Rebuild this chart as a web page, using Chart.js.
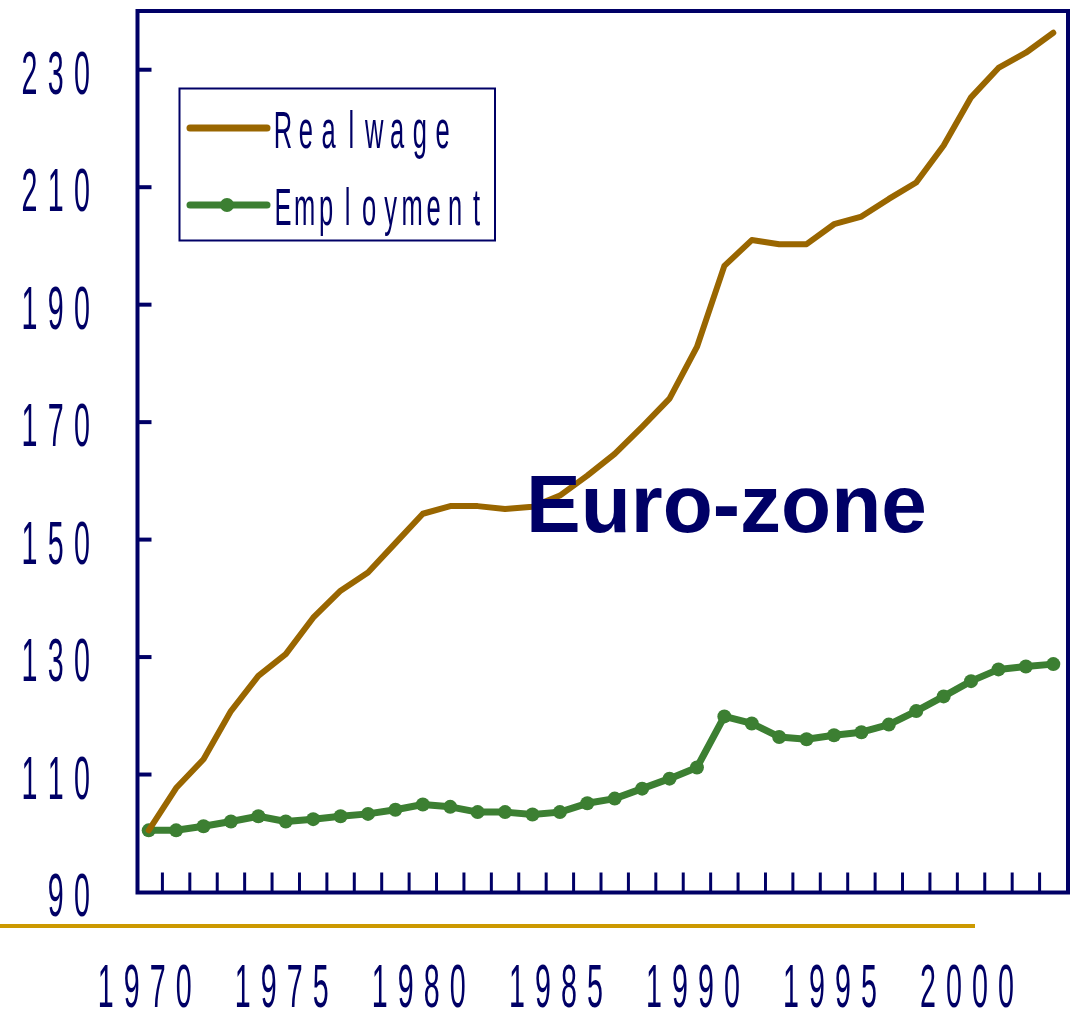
<!DOCTYPE html>
<html>
<head>
<meta charset="utf-8">
<script src="https://cdn.jsdelivr.net/npm/chart.js@4.4.0/dist/chart.umd.min.js"></script>
<style>
  html, body { margin: 0; padding: 0; background: #fff; }
</style>
</head>
<body>
<canvas id="myChart" width="1077" height="1010"></canvas>
<script>
// data (index, 1970 = 100)
const years = ['1970', '1971', '1972', '1973', '1974', '1975', '1976', '1977', '1978', '1979',
  '1980', '1981', '1982', '1983', '1984', '1985', '1986', '1987', '1988', '1989',
  '1990', '1991', '1992', '1993', '1994', '1995', '1996', '1997', '1998', '1999',
  '2000', '2001', '2002', '2003'];
const realWage = [100.5, 107.7, 112.6, 120.8, 126.8, 130.5, 136.7, 141.3, 144.4, 149.4,
  154.4, 155.7, 155.7, 155.2, 155.6, 157.5, 160.9, 164.6, 169.2, 174.0,
  182.8, 196.6, 201.0, 200.3, 200.3, 203.7, 205.0, 208.0, 210.8, 217.1,
  225.3, 230.3, 232.9, 236.3];
const employment = [100.5, 100.5, 101.2, 102.0, 102.9, 102.0, 102.4, 102.9, 103.3, 104.0,
  104.9, 104.5, 103.6, 103.6, 103.2, 103.6, 105.1, 105.9, 107.6, 109.3,
  111.2, 119.9, 118.7, 116.4, 116.0, 116.7, 117.2, 118.5, 120.8, 123.3,
  125.9, 127.9, 128.4, 128.8];
const yTicks = [90, 110, 130, 150, 170, 190, 210, 230];
const xTickLabels = ['1970', '1975', '1980', '1985', '1990', '1995', '2000'];

const navy = '#000066';
const FONT = "'Liberation Sans', Arial, sans-serif";

// narrow, letter-spaced text like the old slide font
function spacedText(ctx, text, firstCenter, baseline, pitch, size, sx) {
  ctx.save();
  ctx.font = size + 'px ' + FONT;
  ctx.textAlign = 'center';
  ctx.textBaseline = 'alphabetic';
  for (let i = 0; i < text.length; i++) {
    ctx.save();
    ctx.translate(firstCenter + i * pitch, baseline);
    ctx.scale(sx, 1);
    ctx.fillText(text[i], 0, 0);
    ctx.restore();
  }
  ctx.restore();
}

const slideAxes = {
  id: 'slideAxes',
  afterDatasetsDraw(chart) {
    const ctx = chart.ctx;
    const a = chart.chartArea;
    const x = chart.scales.x, y = chart.scales.y;
    const left = a.left + 2.5, right = a.right + 1, top = a.top, bottom = a.bottom + 0.5;

    ctx.save();
    ctx.strokeStyle = navy;
    ctx.fillStyle = navy;

    // frame
    ctx.lineWidth = 4;
    ctx.strokeRect(left, top, right - left, bottom - top);

    // inward y ticks
    yTicks.forEach(v => {
      if (v <= y.min) return;
      const py = y.getPixelForValue(v);
      ctx.beginPath();
      ctx.moveTo(left, py);
      ctx.lineTo(left + 14, py);
      ctx.stroke();
    });

    // x ticks between years
    ctx.lineWidth = 3;
    for (let i = 0; i < years.length - 1; i++) {
      const px = (x.getPixelForValue(i) + x.getPixelForValue(i + 1)) / 2;
      ctx.beginPath();
      ctx.moveTo(px, bottom);
      ctx.lineTo(px, bottom - 20);
      ctx.stroke();
    }

    // y labels
    yTicks.forEach(v => {
      const s = String(v);
      const py = y.getPixelForValue(v);
      spacedText(ctx, s, 82 - (s.length - 1) * 26.3, py + 24, 26.3, 61, 0.47);
    });

    // x labels
    xTickLabels.forEach(lbl => {
      const px = x.getPixelForValue(years.indexOf(lbl)) - 4;
      spacedText(ctx, lbl, px - 1.5 * 26, 1007, 26, 61, 0.47);
    });

    // gold rule under the axis
    ctx.strokeStyle = '#cc9900';
    ctx.lineWidth = 4;
    ctx.beginPath();
    ctx.moveTo(0, 926);
    ctx.lineTo(975, 926);
    ctx.stroke();

    // legend box
    ctx.strokeStyle = navy;
    ctx.lineWidth = 2;
    ctx.strokeRect(179.5, 88.5, 315.5, 152);
    const pitches = [22.8, 21.5];
    chart.data.datasets.forEach((ds, i) => {
      const ly = 128 + i * 77;
      ctx.strokeStyle = ds.borderColor;
      ctx.lineWidth = 7;
      ctx.lineCap = 'round';
      ctx.beginPath();
      ctx.moveTo(190, ly);
      ctx.lineTo(267, ly);
      ctx.stroke();
      if (ds.pointRadius > 0) {
        ctx.fillStyle = ds.borderColor;
        ctx.beginPath();
        ctx.arc(227, ly, ds.pointRadius, 0, Math.PI * 2);
        ctx.fill();
      }
      ctx.fillStyle = navy;
      spacedText(ctx, ds.label, 283, ly + 20, pitches[i], 51, 0.5);
    });

    // title inside the plot
    ctx.fillStyle = navy;
    ctx.font = 'bold 82px ' + FONT;
    ctx.textAlign = 'left';
    ctx.textBaseline = 'alphabetic';
    ctx.fillText('Euro-zone', 526, 532);
    ctx.restore();
  }
};

new Chart(document.getElementById('myChart'), {
  type: 'line',
  data: {
    labels: years,
    datasets: [{
      label: 'Realwage',
      data: realWage,
      borderColor: '#996600',
      backgroundColor: '#996600',
      borderWidth: 6,
      pointRadius: 0,
      borderCapStyle: 'round',
      borderJoinStyle: 'round',
      tension: 0
    }, {
      label: 'Employment',
      data: employment,
      borderColor: '#3c7f32',
      backgroundColor: '#3c7f32',
      borderWidth: 7,
      pointRadius: 7,
      pointBorderWidth: 0,
      pointBackgroundColor: '#3c7f32',
      borderJoinStyle: 'round',
      tension: 0
    }]
  },
  options: {
    responsive: false,
    devicePixelRatio: 1,
    animation: false,
    layout: { padding: { left: 135, top: 11, right: 10, bottom: 118 } },
    scales: {
      x: { type: 'category', display: false, offset: true },
      y: { display: false, min: 90, max: 240 }
    },
    plugins: {
      legend: { display: false },
      tooltip: { enabled: false }
    }
  },
  plugins: [slideAxes]
});
</script>
</body>
</html>
